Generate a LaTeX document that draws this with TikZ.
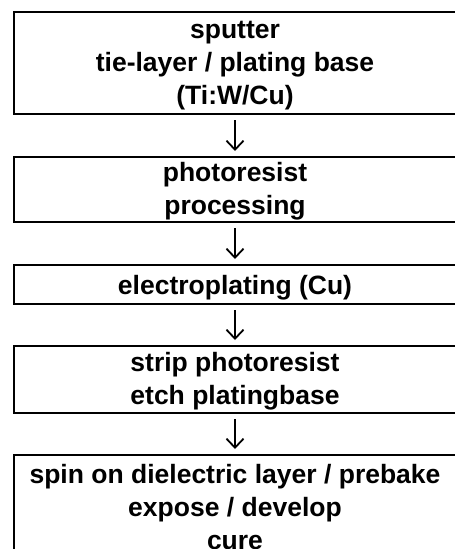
\documentclass[tikz,border=0pt]{standalone}
\usepackage{fontspec}
\setmainfont{Liberation Sans}
\usetikzlibrary{arrows.meta}
\tikzset{
  stepbox/.style={draw=black, line width=2pt, outer sep=0pt, inner sep=0pt,
    minimum width=442pt, anchor=north},
  steptext/.style={align=center, inner sep=0pt, yshift=-2pt,
    font=\fontsize{26.5}{33}\selectfont\bfseries},
  flow/.style={draw=black, line width=1.8pt, shorten <=6pt, shorten >=6pt,
    -{Straight Barb[length=9pt, width=17pt, line width=1.8pt]}}
}
\begin{document}
\begin{tikzpicture}[x=1pt,y=-1pt]
\useasboundingbox (0,0) rectangle (455,549);
\node[stepbox, minimum height=102pt] (b1) at (235,12) {};
\node[stepbox, minimum height=65pt]  (b2) at (235,157) {};
\node[stepbox, minimum height=39pt]  (b3) at (235,265) {};
\node[stepbox, minimum height=67pt]  (b4) at (235,346) {};
\node[stepbox, minimum height=102pt] (b5) at (235,455) {};
\node[steptext] (t1) at (b1.center) {\strut sputter\\\strut tie-layer / plating base\\\strut (Ti:W/Cu)};
\node[steptext] (t2) at (b2.center) {\strut photoresist\\\strut processing};
\node[steptext] (t3) at ([yshift=-1pt]b3.center) {\strut electroplating (Cu)};
\node[steptext] (t4) at (b4.center) {\strut strip photoresist\\\strut etch platingbase};
\node[steptext] (t5) at ([yshift=-2pt]b5.center) {\strut spin on dielectric layer / prebake\\\strut expose / develop\\\strut cure};
\draw[flow] (b1.south) -- (b2.north);
\draw[flow] (b2.south) -- (b3.north);
\draw[flow] (b3.south) -- (b4.north);
\draw[flow] (b4.south) -- (b5.north);
\end{tikzpicture}
\end{document}
